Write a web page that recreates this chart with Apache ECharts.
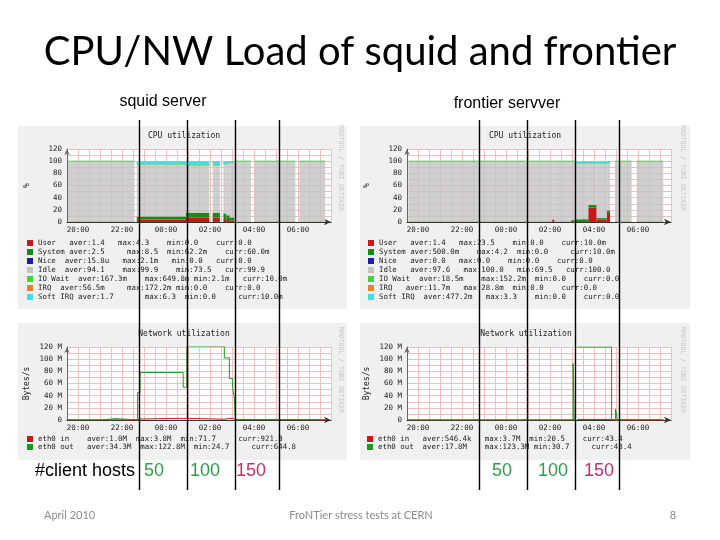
<!DOCTYPE html>
<html><head><meta charset="utf-8">
<script src="https://cdn.jsdelivr.net/npm/echarts@6/dist/echarts.min.js"></script>
<style>html,body{margin:0;padding:0;background:#fff}#c{width:720px;height:540px}</style>
</head><body><div id="c"></div>
<script>
// ---------- tick labels ----------
const xTickHours = [20, 22, 24, 26, 28, 30];
const xTickLabels = ['20:00', '22:00', '00:00', '02:00', '04:00', '06:00'];
const yTickValues = [0, 20, 40, 60, 80, 100, 120];
const cpuYLabels = ['0', '20', '40', '60', '80', '100', '120'];
const netYLabels = ['0', '20 M', '40 M', '60 M', '80 M', '100 M', '120 M'];

// ---------- categories ----------
const cpuNames = ['User', 'System', 'Nice', 'Idle', 'IO Wait', 'IRQ', 'Soft IRQ'];
const netNames = ['eth0 in', 'eth0 out'];
const clientHostTimes = [22.77, 24.95, 27.14, 29.14];
const clientHostLabels = ['50', '100', '150'];

// ---------- squid server CPU (%), sample intervals in hours (24 = 00:00) ----------
const sqSegStart = [19.55, 22.67, 24.91, 26.12, 26.61, 26.75, 26.9, 27.11, 28.02, 30.06];
const sqSegEnd   = [22.56, 24.91, 25.97, 26.45, 26.75, 26.9, 27.11, 27.86, 29.88, 31.24];
const sqUser     = [0.3, 4, 7, 7, 5, 5, 2.5, 0.3, 0.3, 0.3];
const sqSystem   = [0.4, 5, 8, 8, 9, 6, 5, 0.4, 0.4, 0.4];
const sqNice     = [0, 0, 0, 0, 0, 0, 0, 0, 0, 0];
const sqIdle     = [99.1, 86.1, 78.3, 78.3, 81.5, 85.6, 90.6, 99.1, 99.1, 99.1];
const sqIoWait   = [0.2, 0.3, 0.5, 0.5, 0.4, 0.3, 0.3, 0.2, 0.2, 0.2];
const sqIrq      = [0, 0.1, 0.2, 0.2, 0.1, 0.1, 0.1, 0, 0, 0];
const sqSoftIrq  = [0, 4.5, 6, 6, 4, 3, 1.5, 0, 0, 0];
const sqCpuLegend = [
  'User   aver:1.4   max:4.3    min:0.0    curr:0.0',
  'System aver:2.5     max:8.5  min:62.2m    curr:60.0m',
  'Nice  aver:15.8u   max:2.1m   min:0.0   curr:0.0',
  'Idle  aver:94.1    max:99.9    min:73.5   curr:99.9',
  'IO Wait  aver:167.3m    max:649.8m min:2.1m   curr:10.0m',
  'IRQ  aver:56.5m     max:172.2m min:0.0    curr:0.0',
  'Soft IRQ aver:1.7       max:6.3  min:0.0     curr:10.0m'
];

// ---------- frontier server CPU (%) ----------
const frSegStart = [19.56, 26.1, 26.2, 26.95, 27.14, 27.74, 28.12, 28.58, 28.95, 29.94];
const frSegEnd   = [26.1, 26.2, 26.95, 27.14, 27.74, 28.12, 28.58, 28.73, 29.71, 31.15];
const frUser     = [0.4, 4, 0.4, 1, 1.5, 24, 4, 15, 0.4, 0.4];
const frSystem   = [0.5, 0.5, 0.5, 2, 3, 4, 2.5, 4, 0.5, 0.5];
const frNice     = [0, 0, 0, 0, 0, 0, 0, 0, 0, 0];
const frIdle     = [99.0, 95.4, 99.0, 96.9, 92.4, 68.9, 90.4, 77.9, 99.0, 99.0];
const frIoWait   = [0.1, 0.1, 0.1, 0.1, 0.1, 0.1, 0.1, 0.1, 0.1, 0.1];
const frIrq      = [0, 0, 0, 0, 0, 0, 0, 0, 0, 0];
const frSoftIrq  = [0, 0, 0, 0, 3, 3, 3, 3, 0, 0];
const frCpuLegend = [
  'User   aver:1.4   max:23.5    min:0.0    curr:10.0m',
  'System aver:500.0m    max:4.2  min:0.0     curr:10.0m',
  'Nice   aver:0.0   max:0.0    min:0.0    curr:0.0',
  'Idle   aver:97.6   max:100.0   min:69.5   curr:100.0',
  'IO Wait  aver:18.5m    max:152.2m  min:0.0    curr:0.0',
  'IRQ   aver:11.7m   max:28.8m  min:0.0    curr:0.0',
  'Soft IRQ  aver:477.2m   max:3.3    min:0.0    curr:0.0'
];

// ---------- squid server network (MBytes/s) ----------
const sqNetTime = [19.55, 21.05, 21.4, 21.73, 22.71, 22.82, 24.78, 24.95, 26.65, 26.88, 27.03, 27.11, 27.15, 31.24];
const sqIn      = [0.05, 0.1, 0.2, 0.05, 1.5, 2.8, 2.8, 1.2, 2.5, 2.5, 2.0, 1.0, 0.05, 0.05];
const sqOut     = [0.3, 1.2, 2.2, 0.3, 45, 78, 54, 121, 102, 68, 52, 35, 0.5, 0.5];
const sqNetLegend = [
  'eth0 in    aver:1.0M  max:3.8M  min:71.7     curr:921.3',
  'eth0 out   aver:34.3M  max:122.8M  min:24.7     curr:644.8'
];

// ---------- frontier server network (MBytes/s) ----------
const frNetTime = [19.56, 27.05, 27.1, 27.16, 27.24, 28.8, 28.98, 29.06, 31.15];
const frIn      = [0.05, 2, 0.5, '-', 1, 0.05, 1.5, 0.05, 0.05];
const frOut     = [0.05, 93, 0.5, '-', 120, 0.5, 18, 0.5, 0.5];
const frNetLegend = [
  'eth0 in   aver:546.4k   max:3.7M  min:20.5    curr:43.4',
  'eth0 out  aver:17.8M    max:123.3M min:30.7     curr:43.4'
];

// ---------- styling ----------
const mono = 'DejaVu Sans Mono';
const cpuColors = ['#c41a1a', '#178a17', '#1a1ab4', '#c4c4c4', '#3ad83a', '#e8822e', '#3ee0e6'];
const netColors = ['#c41a1a', '#1f961f'];
const gridLine = '#ecc0c0';

const chart = echarts.init(document.getElementById('c'), null, { renderer: 'canvas' });

function xAx(gi) {
  return {
    type: 'value', gridIndex: gi, min: 19.5, max: 31.5, interval: 0.5,
    axisLine: { show: true, onZero: false, lineStyle: { color: '#333', width: 1 }, symbol: ['none', 'arrow'], symbolSize: [5, 7] },
    axisTick: { show: false },
    axisLabel: {
      margin: 4, fontFamily: mono, fontSize: 7.5, color: '#222',
      formatter: v => { const i = xTickHours.indexOf(Math.round(v * 100) / 100); return i >= 0 ? xTickLabels[i] : ''; }
    },
    splitLine: { show: true, lineStyle: { color: gridLine, width: 1 } }
  };
}
function yAx(gi, labels, name) {
  return {
    type: 'value', gridIndex: gi, min: 0, max: 120, interval: 10,
    name: name, nameLocation: 'middle', nameGap: 36,
    nameTextStyle: { fontFamily: mono, fontSize: 8, color: '#222' },
    axisLine: { show: true, lineStyle: { color: '#666', width: 1 }, symbol: ['none', 'arrow'], symbolSize: [4, 6] },
    axisTick: { show: false },
    axisLabel: {
      margin: 5, fontFamily: mono, fontSize: 7.5, color: '#222',
      formatter: v => { const i = yTickValues.indexOf(v); return i >= 0 ? labels[i] : ''; }
    },
    splitLine: { show: true, lineStyle: { color: gridLine, width: 1 } }
  };
}
// stacked CPU layers: one custom series per state, each interval drawn as a rect on top of the lower states
function cpuSeries(prefix, starts, ends, lists, gi) {
  return cpuNames.map((n, k) => ({
    type: 'custom', name: prefix + n, xAxisIndex: gi, yAxisIndex: gi,
    clip: true, silent: true, animation: false,
    itemStyle: { color: cpuColors[k] },
    encode: { x: [0, 1], y: 2 },
    data: starts.map((t, i) => [t, ends[i], lists[k][i]]),
    renderItem: function (params, api) {
      const i = params.dataIndex;
      let base = 0;
      for (let j = 0; j < k; j++) base += lists[j][i];
      const v = api.value(2);
      const p0 = api.coord([api.value(0), base]);
      const p1 = api.coord([api.value(1), base + v]);
      const children = [];
      if (v > 0) {
        children.push({ type: 'rect', shape: { x: p0[0], y: p1[1], width: p1[0] - p0[0], height: p0[1] - p1[1] },
          style: { fill: cpuColors[k], opacity: n === 'Idle' ? 0.82 : 1 } });
      }
      if (n === 'IO Wait') {
        children.push({ type: 'line', shape: { x1: p0[0], y1: p1[1], x2: p1[0], y2: p1[1] },
          style: { stroke: '#5ccc5c', lineWidth: 1 } });
      }
      return { type: 'group', children: children };
    }
  }));
}
function netSeries(prefix, times, lists, gi) {
  return netNames.map((n, k) => ({
    type: 'line', name: prefix + n, xAxisIndex: gi, yAxisIndex: gi,
    step: 'end', symbol: 'none', silent: true, animation: false,
    lineStyle: { width: 1, color: netColors[k] },
    itemStyle: { color: netColors[k] },
    data: times.map((t, i) => [t, lists[k][i]])
  }));
}
function legendFor(prefix, names, colors, texts, left, top, lh) {
  return {
    left: left, top: top, orient: 'vertical', itemWidth: 6, itemHeight: 6,
    itemGap: 0, padding: 0, selectedMode: false,
    data: names.map((n, k) => ({ name: prefix + n, icon: 'rect', itemStyle: { color: colors[k] } })),
    formatter: name => texts[names.indexOf(name.slice(prefix.length))],
    textStyle: { fontFamily: mono, fontSize: 7.4, color: '#222', lineHeight: lh }
  };
}

const gridBase = { show: true, backgroundColor: '#ffffff', borderWidth: 0, outerBoundsMode: 'none' };

chart.setOption({
  animation: false,
  grid: [
    Object.assign({ left: 67, top: 149, width: 264, height: 73 }, gridBase),
    Object.assign({ left: 67, top: 347, width: 264, height: 73 }, gridBase),
    Object.assign({ left: 407, top: 149, width: 264, height: 73 }, gridBase),
    Object.assign({ left: 407, top: 347, width: 264, height: 73 }, gridBase)
  ],
  xAxis: [xAx(0), xAx(1), xAx(2), xAx(3)],
  yAxis: [yAx(0, cpuYLabels, '%'), yAx(1, netYLabels, 'Bytes/s'), yAx(2, cpuYLabels, '%'), yAx(3, netYLabels, 'Bytes/s')],
  legend: [
    legendFor('sq ', cpuNames, cpuColors, sqCpuLegend, 27, 238.5, 9),
    legendFor('sqn ', netNames, netColors, sqNetLegend, 27, 435, 8),
    legendFor('fr ', cpuNames, cpuColors, frCpuLegend, 368, 238.5, 9),
    legendFor('frn ', netNames, netColors, frNetLegend, 367, 435, 8)
  ],
  series: [].concat(
    cpuSeries('sq ', sqSegStart, sqSegEnd, [sqUser, sqSystem, sqNice, sqIdle, sqIoWait, sqIrq, sqSoftIrq], 0),
    netSeries('sqn ', sqNetTime, [sqIn, sqOut], 1),
    cpuSeries('fr ', frSegStart, frSegEnd, [frUser, frSystem, frNice, frIdle, frIoWait, frIrq, frSoftIrq], 2),
    netSeries('frn ', frNetTime, [frIn, frOut], 3)
  )
});

// ---------- decorations (panels, texts, marker lines) ----------
const els = [];
const panels = [[18, 126, 329, 183], [18, 323, 329, 137], [360, 126, 330, 183], [360, 323, 330, 137]];
panels.forEach(p => els.push({ type: 'rect', z: -10, silent: true, shape: { x: p[0], y: p[1], width: p[2], height: p[3] }, style: { fill: '#f0f0f0' } }));

function txt(x, y, text, font, fill, align, extra) {
  return Object.assign({ type: 'text', x: x, y: y, z: 50, silent: true,
    style: { text: text, font: font, fill: fill, textAlign: align || 'center', textVerticalAlign: 'middle' } }, extra || {});
}
els.push(txt(360, 52, 'CPU/NW Load of squid and frontier', '40px Lato', '#000'));
els.push(txt(163, 102, 'squid server', '16px "Liberation Sans"', '#000'));
els.push(txt(507, 104, 'frontier servver', '16px "Liberation Sans"', '#000'));
els.push(txt(184, 136, 'CPU utilization', '8px "DejaVu Sans Mono"', '#222'));
els.push(txt(525, 136, 'CPU utilization', '8px "DejaVu Sans Mono"', '#222'));
els.push(txt(184, 334, 'Network utilization', '8px "DejaVu Sans Mono"', '#222'));
els.push(txt(526, 334, 'Network utilization', '8px "DejaVu Sans Mono"', '#222'));
[[341, 168], [341, 370], [683, 168], [683, 370]].forEach(p =>
  els.push(txt(p[0], p[1], 'RRDTOOL / TOBI OETIKER', '6.5px "DejaVu Sans Mono"', '#c4c4c4', 'center', { rotation: -Math.PI / 2 })));
els.push(txt(35, 471, '#client hosts', '18px "Liberation Sans"', '#000', 'left'));
const numColors = ['#2e9c4a', '#2e9c4a', '#c0306e'];
[154, 205, 251].forEach((x, i) => els.push(txt(x, 471, clientHostLabels[i], '18px "Liberation Sans"', numColors[i])));
[502, 553, 599].forEach((x, i) => els.push(txt(x, 471, clientHostLabels[i], '18px "Liberation Sans"', numColors[i])));
els.push(txt(44, 515, 'April 2010', '11px Lato', '#8a8a8a', 'left'));
els.push(txt(361, 515, 'FroNTier stress tests at CERN', '11px Lato', '#8a8a8a'));
els.push(txt(673, 515, '8', '11px Lato', '#8a8a8a'));

[0, 2].forEach(gi => {
  clientHostTimes.forEach(t => {
    const px = Math.round(chart.convertToPixel({ xAxisIndex: gi }, t)) + 0.5;
    els.push({ type: 'line', z: 60, silent: true, shape: { x1: px, y1: 120, x2: px, y2: 490 }, style: { stroke: '#000', lineWidth: 1.4 } });
  });
});

chart.setOption({ graphic: { elements: els } });
</script></body></html>
